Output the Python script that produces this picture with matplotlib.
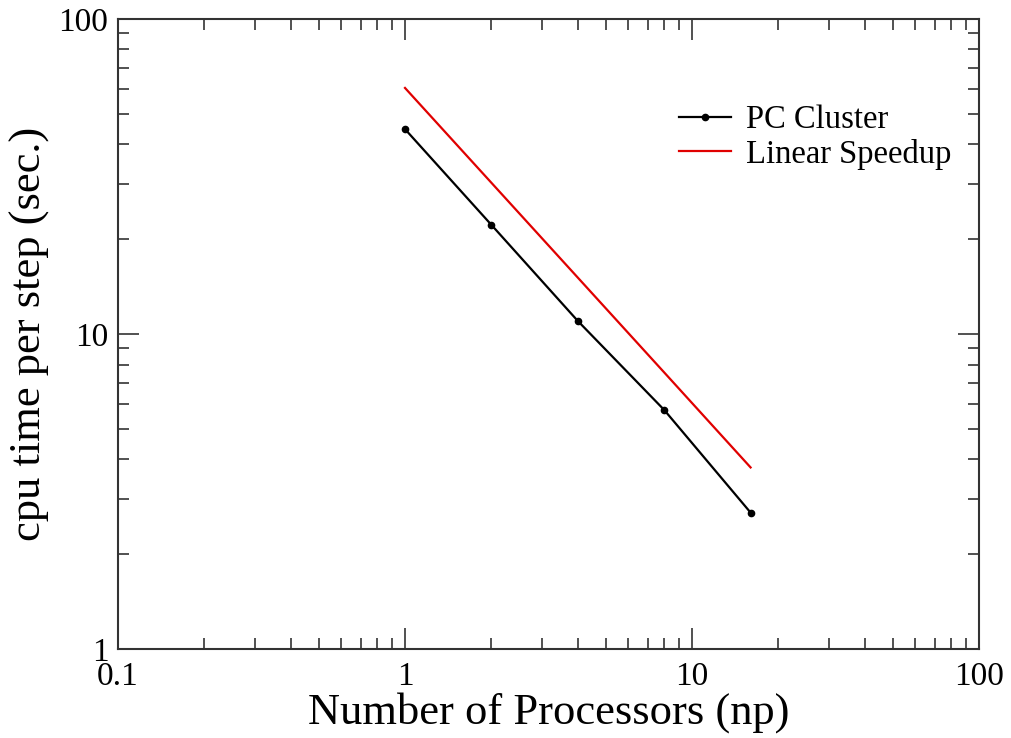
import numpy as np
import matplotlib
matplotlib.use("Agg")
import matplotlib.pyplot as plt
from matplotlib.ticker import LogLocator, NullFormatter

# data
processors = [1, 2, 4, 8, 16]
pc_cluster = [44.7, 22.2, 11.0, 5.74, 2.71]
linear_np = [1, 2, 4, 8, 16]
linear_speedup = [60.4, 30.2, 15.1, 7.55, 3.77]

x_ticks = [0.1, 1, 10, 100]
x_ticklabels = ["0.1", "1", "10", "100"]
y_ticks = [1, 10, 100]
y_ticklabels = ["1", "10", "100"]

plt.rcParams['font.family'] = ['Liberation Serif', 'DejaVu Serif']

fig = plt.figure(figsize=(10.12, 7.38), dpi=100)
ax = fig.add_axes([0.1166, 0.1206, 0.8508, 0.8537])

ax.plot(processors, pc_cluster, '-', color='black', lw=1.6,
        marker='o', ms=4.5, label='PC Cluster')
ax.plot(linear_np, linear_speedup, '-', color='#e00000', lw=1.6,
        label='Linear Speedup')

ax.set_xscale('log')
ax.set_yscale('log')
ax.set_xlim(0.1, 100)
ax.set_ylim(1, 100)

ax.set_xticks(x_ticks)
ax.set_xticklabels(x_ticklabels)
ax.set_yticks(y_ticks)
ax.set_yticklabels(y_ticklabels)
ax.xaxis.set_minor_locator(LogLocator(base=10, subs=np.arange(2, 10)))
ax.yaxis.set_minor_locator(LogLocator(base=10, subs=np.arange(2, 10)))
ax.xaxis.set_minor_formatter(NullFormatter())
ax.yaxis.set_minor_formatter(NullFormatter())

ax.tick_params(which='both', direction='in', top=True, right=True,
               color='#333333', width=1.2, labelsize=24)
ax.tick_params(which='major', length=15)
ax.tick_params(which='minor', length=8)
ax.tick_params(axis='x', pad=9)
ax.tick_params(axis='y', pad=7)

for s in ax.spines.values():
    s.set_linewidth(1.5)
    s.set_color('#333333')

ax.set_xlabel('Number of Processors (np)', fontsize=32, labelpad=0)
ax.set_ylabel('cpu time per step (sec.)', fontsize=32, labelpad=6)

ax.legend(loc='upper left', bbox_to_anchor=(0.636, 0.885), frameon=False,
          fontsize=23.5, handlelength=1.6, handletextpad=0.45,
          labelspacing=0.12, borderaxespad=0)

fig.savefig('out.png', dpi=100)
